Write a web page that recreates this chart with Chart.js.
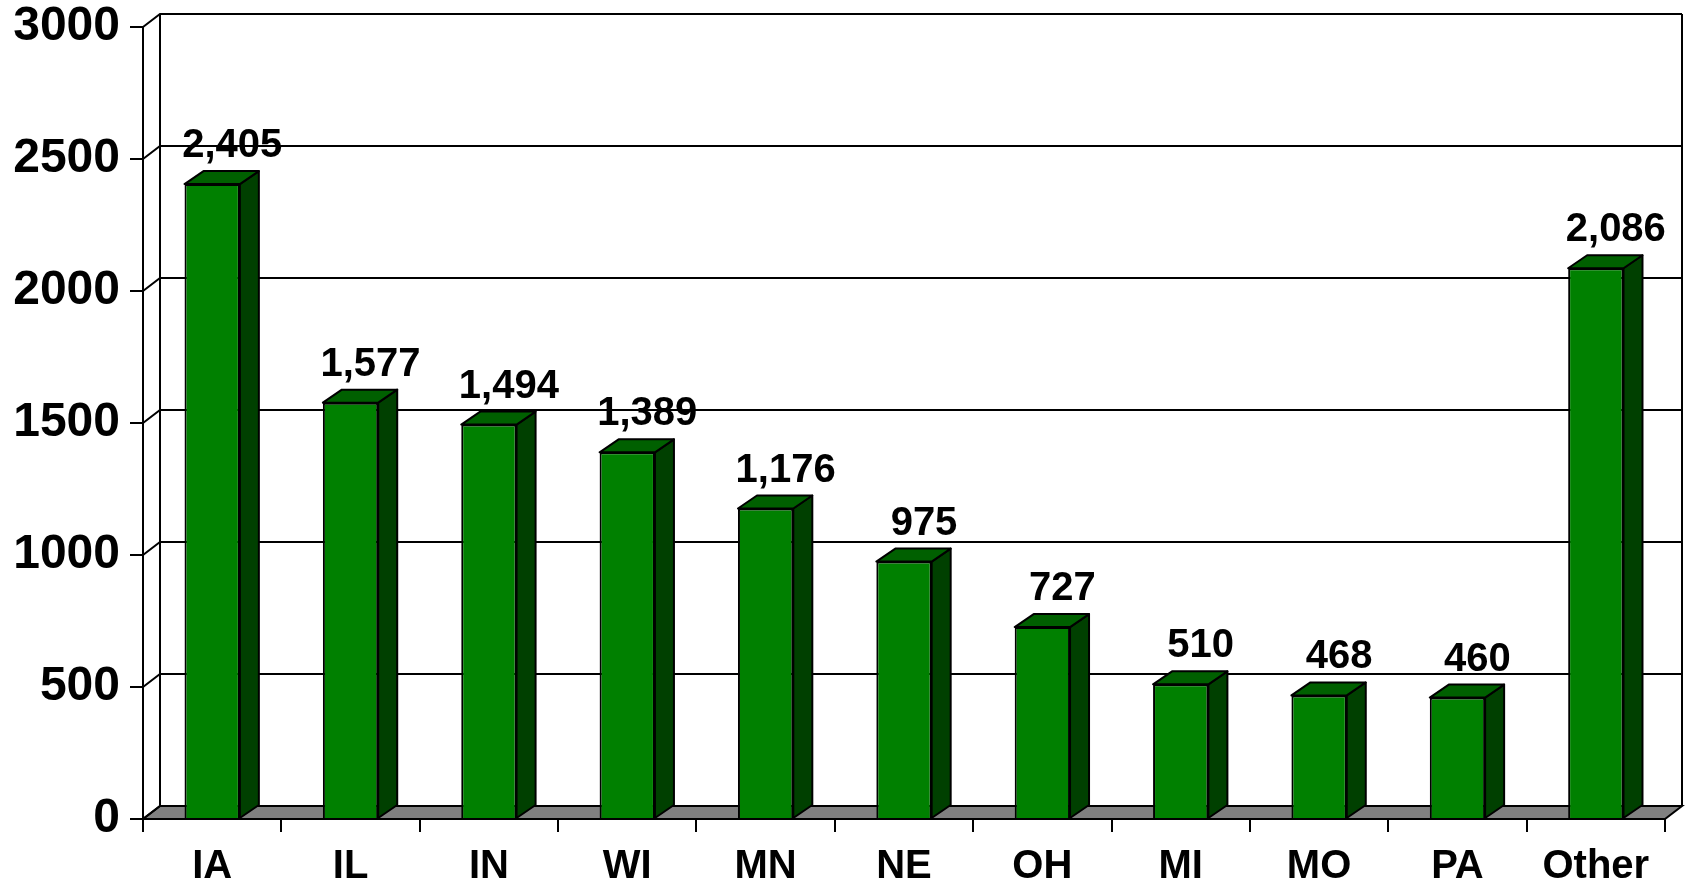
<!DOCTYPE html>
<html>
<head>
<meta charset="utf-8">
<script src="https://cdn.jsdelivr.net/npm/chart.js@4/dist/chart.umd.min.js"></script>
<style>
  html, body { margin: 0; padding: 0; background: #fff; }
  #wrap { width: 1690px; height: 884px; position: relative; }
</style>
</head>
<body>
<div id="wrap"><canvas id="chart"></canvas></div>
<script>
// values
const states = ["IA", "IL", "IN", "WI", "MN", "NE", "OH", "MI", "MO", "PA", "Other"];
const counts = [2405, 1577, 1494, 1389, 1176, 975, 727, 510, 468, 460, 2086];
const yTicks = [0, 500, 1000, 1500, 2000, 2500, 3000];

const FONT = '"Liberation Sans", Arial, sans-serif';
// depth of the fake 3d box
const wallDx = 17, wallDy = -13;
const barDx = 19, barDy = -13;

const box3d = {
  id: "box3d",
  beforeDatasetsDraw(chart) {
    const ctx = chart.ctx;
    const a = chart.chartArea;
    const y = chart.scales.y;
    ctx.save();
    ctx.strokeStyle = "#000";
    ctx.lineWidth = 2;

    // floor
    ctx.fillStyle = "#808080";
    ctx.beginPath();
    ctx.moveTo(a.left, a.bottom);
    ctx.lineTo(a.right, a.bottom);
    ctx.lineTo(a.right + wallDx, a.bottom + wallDy);
    ctx.lineTo(a.left + wallDx, a.bottom + wallDy);
    ctx.closePath();
    ctx.fill();
    ctx.stroke();

    // gridlines on the back wall + slants on the side wall
    yTicks.forEach(v => {
      const py = y.getPixelForValue(v);
      ctx.beginPath();
      ctx.moveTo(a.left, py);
      ctx.lineTo(a.left + wallDx, py + wallDy);
      if (v > 0) ctx.lineTo(a.right + wallDx, py + wallDy);
      ctx.stroke();
    });

    // wall edges
    ctx.beginPath();
    ctx.moveTo(a.left + wallDx, a.top + wallDy);
    ctx.lineTo(a.left + wallDx, a.bottom + wallDy);
    ctx.moveTo(a.right + wallDx, a.top + wallDy);
    ctx.lineTo(a.right + wallDx, a.bottom + wallDy);
    ctx.moveTo(a.left, a.top);
    ctx.lineTo(a.left, a.bottom + 13);
    ctx.stroke();
    ctx.restore();
  },
  afterDatasetsDraw(chart) {
    const ctx = chart.ctx;
    const meta = chart.getDatasetMeta(0);
    ctx.save();
    ctx.strokeStyle = "#000";
    ctx.lineWidth = 2;
    ctx.lineJoin = "round";
    meta.data.forEach((bar, i) => {
      const p = bar.getProps(["x", "y", "base", "width"], true);
      const l = p.x - p.width / 2, r = p.x + p.width / 2;
      // side face
      ctx.fillStyle = "#004000";
      ctx.beginPath();
      ctx.moveTo(r, p.y);
      ctx.lineTo(r + barDx, p.y + barDy);
      ctx.lineTo(r + barDx, p.base + barDy);
      ctx.lineTo(r, p.base);
      ctx.closePath();
      ctx.fill();
      ctx.stroke();
      // top face
      ctx.fillStyle = "#006000";
      ctx.beginPath();
      ctx.moveTo(l, p.y);
      ctx.lineTo(l + barDx, p.y + barDy);
      ctx.lineTo(r + barDx, p.y + barDy);
      ctx.lineTo(r, p.y);
      ctx.closePath();
      ctx.fill();
      ctx.stroke();
      // value label
      ctx.fillStyle = "#000";
      ctx.font = "bold 40px " + FONT;
      ctx.textAlign = "center";
      ctx.textBaseline = "alphabetic";
      ctx.fillText(counts[i].toLocaleString("en-US"), p.x + 20, p.y + barDy - 14);
    });
    ctx.restore();
  }
};

new Chart(document.getElementById("chart"), {
  type: "bar",
  data: {
    labels: states,
    datasets: [{
      data: counts,
      backgroundColor: "#008000",
      borderColor: "#000",
      borderWidth: 2,
      barPercentage: 0.4,
      categoryPercentage: 1
    }]
  },
  options: {
    responsive: true,
    maintainAspectRatio: false,
    animation: false,
    layout: { padding: { top: 27, right: 25, left: 0, bottom: 0 } },
    plugins: { legend: { display: false }, tooltip: { enabled: false } },
    scales: {
      x: {
        afterFit(scale) { scale.height = 65; scale.paddingLeft = 0; scale.paddingRight = 0; },
        grid: { drawOnChartArea: false, color: "#000", lineWidth: 2, tickLength: 13, offset: true },
        border: { display: false },
        ticks: { color: "#000", padding: 11, font: { family: FONT, size: 40, weight: "bold" }, maxRotation: 0 }
      },
      y: {
        min: 0,
        max: 3000,
        afterFit(scale) { scale.width = 143; scale.paddingTop = 0; scale.paddingBottom = 0; },
        afterBuildTicks(scale) { scale.ticks = yTicks.map(v => ({ value: v })); },
        grid: { drawOnChartArea: false, color: "#000", lineWidth: 2, tickLength: 13 },
        border: { display: false },
        ticks: {
          color: "#000",
          padding: 10,
          font: { family: FONT, size: 48, weight: "bold" },
          callback: v => String(v)
        }
      }
    }
  },
  plugins: [box3d]
});
</script>
</body>
</html>
